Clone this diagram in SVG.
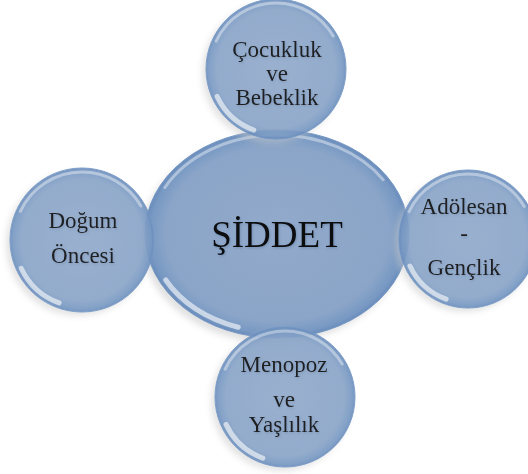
<svg xmlns="http://www.w3.org/2000/svg" width="528" height="474" viewBox="0 0 528 474">
<defs>
<radialGradient id="fillG" cx="50%" cy="50%" r="50%">
<stop offset="0%" stop-color="#92aacb"/>
<stop offset="84%" stop-color="#8ba5c8"/>
<stop offset="96%" stop-color="#7899c3"/>
<stop offset="100%" stop-color="#6a8cbb"/>
</radialGradient>
<filter id="shadow" x="-20%" y="-20%" width="140%" height="140%">
<feGaussianBlur stdDeviation="3"/>
</filter>
<filter id="tshadow" x="-10%" y="-20%" width="120%" height="150%">
<feDropShadow dx="0.8" dy="1.2" stdDeviation="0.8" flood-color="#3d5a80" flood-opacity="0.35"/>
</filter>
</defs>
<style>
.shadow{fill:#c9c9c9;opacity:0.55;filter:url(#shadow)}
.body{fill:url(#fillG);stroke:#7397c4;stroke-width:1}
.sat{opacity:0.92}
.hlTop{fill:none;stroke:#ffffff;stroke-opacity:0.4;stroke-width:3;stroke-linecap:round;stroke-dasharray:125 235;stroke-dashoffset:-205}
.hlBot{fill:none;stroke:#ffffff;stroke-opacity:0.6;stroke-width:5;stroke-linecap:round;stroke-dasharray:45 315;stroke-dashoffset:-110}
text{font-family:"Liberation Serif","Times New Roman",serif;fill:#0a0a0a;text-anchor:middle;filter:url(#tshadow)}
.lbl{font-size:23px}
.main{font-size:37px}
</style>
<g id="connectors"/>
<g id="center">
<ellipse class="shadow" cx="273" cy="239" rx="132" ry="104"/>
<ellipse class="body" cx="277" cy="234" rx="132" ry="104"/>
<ellipse class="hlTop" cx="277" cy="234" rx="127" ry="99" pathLength="360"/>
<ellipse class="hlBot" cx="277" cy="234" rx="126" ry="98" pathLength="360"/>
<text class="main" x="277" y="247">ŞİDDET</text>
</g>
<g id="top" class="sat">
<circle class="shadow" cx="272" cy="73" r="70"/>
<circle class="body" cx="276" cy="69" r="70"/>
<circle class="hlTop" cx="276" cy="69" r="66" pathLength="360"/>
<circle class="hlBot" cx="276" cy="69" r="65" pathLength="360"/>
<text class="lbl" x="277" y="57">Çocukluk</text>
<text class="lbl" x="277" y="81">ve</text>
<text class="lbl" x="277" y="105">Bebeklik</text>
</g>
<g id="left" class="sat">
<circle class="shadow" cx="78" cy="244" r="72"/>
<circle class="body" cx="82" cy="240" r="72"/>
<circle class="hlTop" cx="82" cy="240" r="68" pathLength="360"/>
<circle class="hlBot" cx="82" cy="240" r="67" pathLength="360"/>
<text class="lbl" x="83" y="228">Doğum</text>
<text class="lbl" x="83" y="263">Öncesi</text>
</g>
<g id="right" class="sat">
<circle class="shadow" cx="464" cy="243" r="69"/>
<circle class="body" cx="468" cy="239" r="69"/>
<circle class="hlTop" cx="468" cy="239" r="65" pathLength="360"/>
<circle class="hlBot" cx="468" cy="239" r="64" pathLength="360"/>
<text class="lbl" x="464" y="214">Adölesan</text>
<text class="lbl" x="464" y="241">-</text>
<text class="lbl" x="464" y="275">Gençlik</text>
</g>
<g id="bottom" class="sat">
<circle class="shadow" cx="281" cy="401" r="70"/>
<circle class="body" cx="285" cy="397" r="70"/>
<circle class="hlTop" cx="285" cy="397" r="66" pathLength="360"/>
<circle class="hlBot" cx="285" cy="397" r="65" pathLength="360"/>
<text class="lbl" x="284" y="372">Menopoz</text>
<text class="lbl" x="284" y="407">ve</text>
<text class="lbl" x="284" y="432">Yaşlılık</text>
</g>
</svg>
